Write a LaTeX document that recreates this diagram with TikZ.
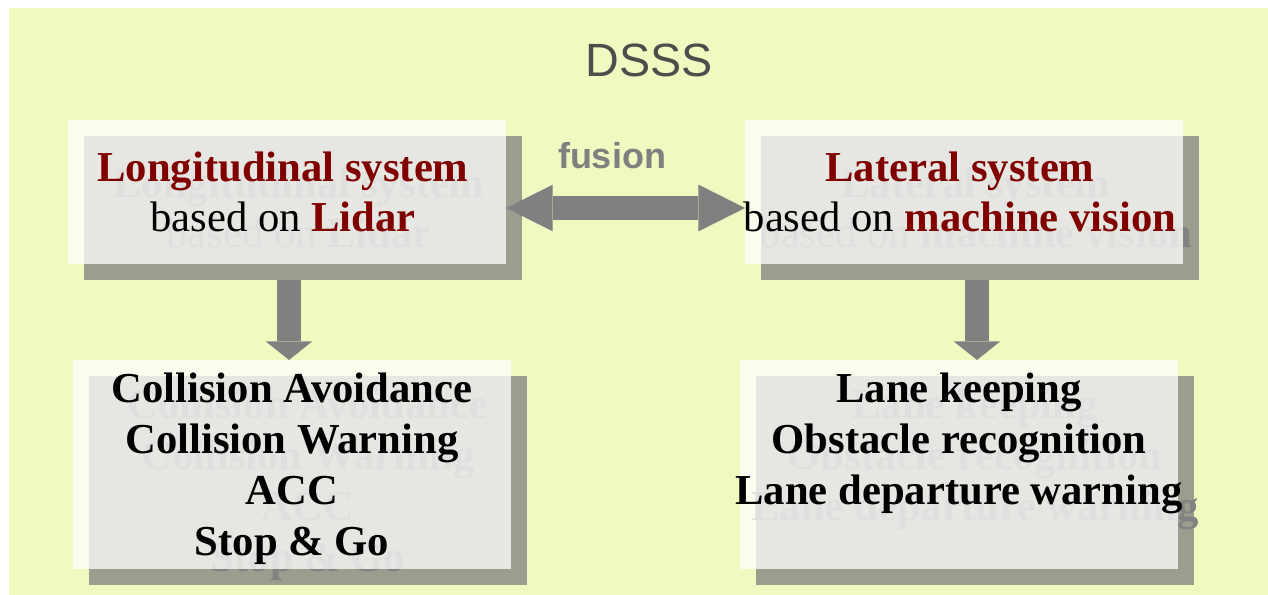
\documentclass[tikz,border=0pt]{standalone}
\usepackage{fontspec}
\setmainfont{Liberation Serif}
\newfontfamily\headfont{Liberation Sans}
\usetikzlibrary{arrows.meta, positioning}

\definecolor{pagebg}{HTML}{F1F9C1}
\definecolor{shadowgray}{HTML}{9C9D8F}
\definecolor{ghostgray}{HTML}{828282}
\definecolor{boxred}{HTML}{800000}
\definecolor{arrowgray}{HTML}{808080}
\definecolor{titlegray}{HTML}{4D4D4D}
\colorlet{hlcol}{boxred}
\newcommand\hl[1]{\textbf{\color{hlcol}#1}}

\begin{document}
\begin{tikzpicture}[
    x=0.75pt, y=-0.75pt,
    every node/.style={inner sep=0pt, outer sep=0pt, align=center},
    topbox/.style={minimum width=328.5pt, minimum height=108pt},
    lowbox/.style={minimum width=328.5pt, minimum height=156.75pt},
    shadowbox/.style={fill=shadowgray},
    panel/.style={fill=white, fill opacity=0.75, text opacity=1},
    boxtext/.style={font=\fontsize{32}{37.8}\selectfont},
    boldtext/.style={font=\fontsize{32}{38.2}\selectfont\bfseries},
    ghost/.style={text=ghostgray, execute at begin node={\colorlet{hlcol}{ghostgray}}},
    fatarrow/.style={line width=18pt, draw=arrowgray, fill=arrowgray},
    sidetip/.tip={Triangle[length=35pt, width=35pt, line width=0pt]},
    downtip/.tip={Triangle[length=14pt, width=35pt, line width=0pt]}
]

\useasboundingbox (0,0) rectangle (1268,595);
\fill[white] (0,0) rectangle (1268,595);
\fill[pagebg] (9,8) rectangle (1268,595);

% Title
\node (title) at (649,60) {\headfont\fontsize{35}{40}\selectfont\color{titlegray}DSSS};
\node (fusion) at (612,156) {\headfont\bfseries\fontsize{27}{30}\selectfont\color{arrowgray}fusion};

% Shadows
\node (lon-sh) [topbox, shadowbox] at (303,208) {};
\node (lat-sh) [topbox, shadowbox] at (980,208) {};
\node (col-sh) [lowbox, shadowbox] at (308,480.5) {};
\node (lane-sh) [lowbox, shadowbox] at (975,480.5) {};

\node [boxtext, ghost] at ([xshift=-3pt]lon-sh) {\hl{Longitudinal system}\\ based on \hl{Lidar}};
\node [boxtext, ghost] at ([xshift=-3pt]lat-sh) {\hl{Lateral system}\\ based on \hl{machine vision}};
\node [boldtext, ghost] at ([yshift=-3pt]col-sh) {Collision Avoidance\\ Collision Warning\\ ACC\\ Stop \& Go};
\node [boldtext, ghost] at ([yshift=16pt]lane-sh) {Lane keeping\\ Obstacle recognition\\ Lane departure warning};

% Boxes
\node (lon) [topbox, panel] at (287,192) {};
\node (lat) [topbox, panel] at (964,192) {};
\node (col) [lowbox, panel] at (292,464.5) {};
\node (lane) [lowbox, panel] at (959,464.5) {};

\node (lon-t) [boxtext] at ([xshift=-3pt]lon) {\hl{Longitudinal system}\\ based on \hl{Lidar}};
\node (lat-t) [boxtext] at ([xshift=-3pt]lat) {\hl{Lateral system}\\ based on \hl{machine vision}};
\node (col-t) [boldtext] at ([yshift=-3pt]col) {Collision Avoidance\\ Collision Warning\\ ACC\\ Stop \& Go};
\node (lane-t) [boldtext] at ([yshift=16pt]lane) {Lane keeping\\ Obstacle recognition\\ Lane departure warning};

% Arrows
\coordinate (lon-out) at ([xshift=-10.5pt]lon-sh.south);
\coordinate (lat-out) at ([xshift=-2.25pt]lat-sh.south);

\draw[fatarrow, sidetip-sidetip] ([yshift=-12pt]lon.east) -- ([yshift=-12pt]lat.west);
\draw[fatarrow, -downtip] (lon-out) -- (lon-out |- col.north);
\draw[fatarrow, -downtip] (lat-out) -- (lat-out |- lane.north);

\end{tikzpicture}
\end{document}
